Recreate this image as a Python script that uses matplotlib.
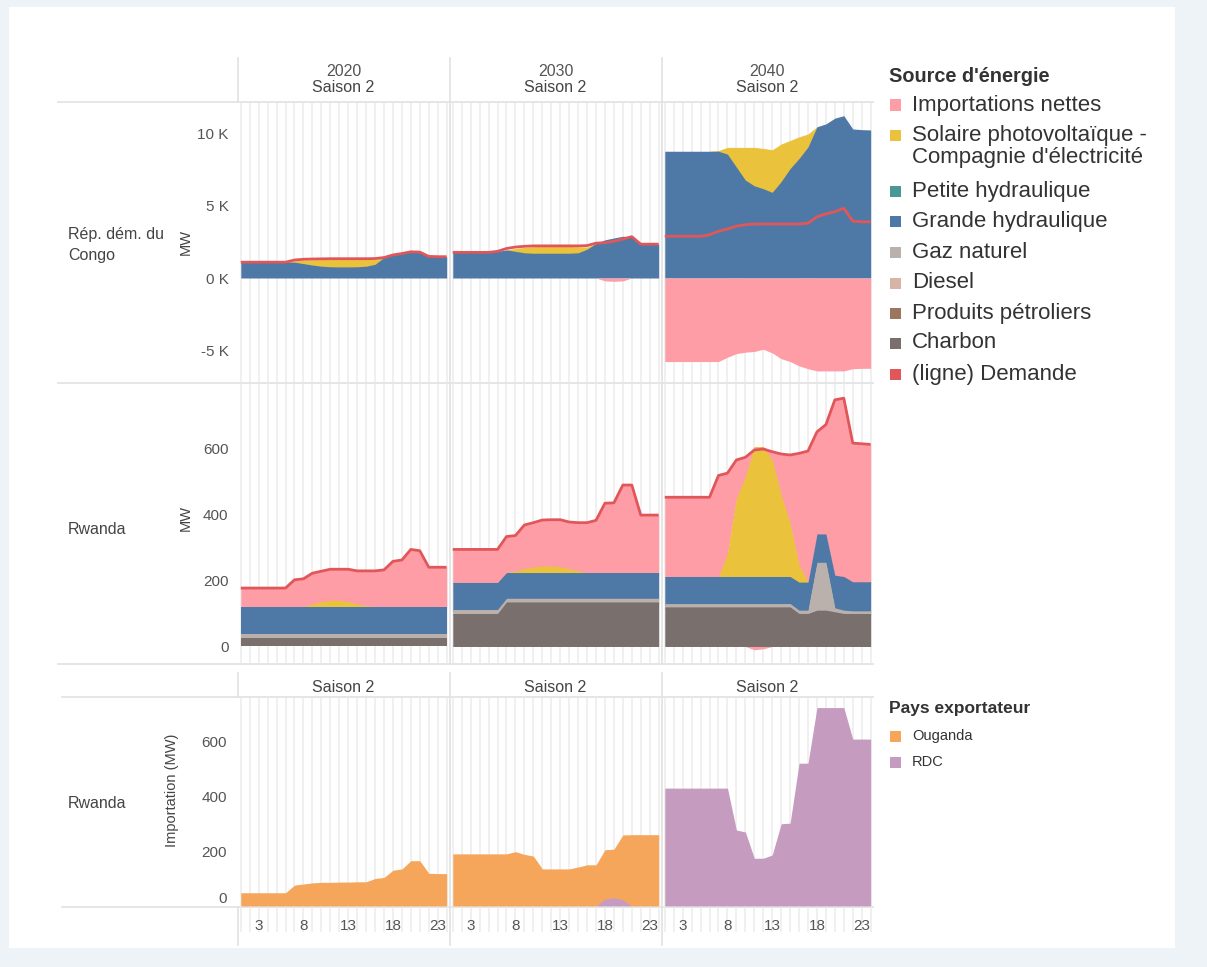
import numpy as np
import matplotlib
matplotlib.use("Agg")
import matplotlib.pyplot as plt
from matplotlib.lines import Line2D
from matplotlib.patches import Rectangle
from matplotlib.ticker import FuncFormatter

plt.rcParams['font.family'] = ['Liberation Sans', 'DejaVu Sans']

# ---------------- data ----------------
HOURS = list(range(1, 25))
YEARS = ['2020', '2030', '2040']
SEASON = 'Saison 2'
X_TICKS = [3, 8, 13, 18, 23]
ROW_LABELS = ['Rép. dém. du\nCongo', 'Rwanda', 'Rwanda']
DRC_TICKS = [-5000, 0, 5000, 10000]
RW_TICKS = [0, 200, 400, 600]

# DRC (MW)
drc_2020_hydro = [1100, 1100, 1100, 1100, 1100, 1100, 1100, 1000, 900, 820, 780, 770, 770, 780, 820, 950, 1420, 1600, 1700, 1820, 1800, 1500, 1480, 1480]
drc_2020_solar = [0, 0, 0, 0, 0, 0, 100, 250, 370, 460, 510, 520, 520, 510, 470, 350, 0, 0, 0, 0, 0, 0, 0, 0]
drc_2020_imports = [0, 0, 0, 0, 0, 0, 0, 0, 0, 0, 0, 0, 0, 0, 0, 0, 0, 0, 0, 0, 0, 0, 0, 0]
drc_2020_demand = [1100, 1100, 1100, 1100, 1100, 1100, 1250, 1300, 1320, 1330, 1340, 1340, 1340, 1340, 1340, 1350, 1420, 1600, 1700, 1820, 1800, 1500, 1480, 1480]

drc_2030_hydro = [1780, 1780, 1780, 1780, 1780, 1850, 1950, 1850, 1750, 1720, 1720, 1720, 1720, 1720, 1750, 2000, 2400, 2650, 2780, 2900, 2870, 2350, 2350, 2350]
drc_2030_solar = [0, 0, 0, 0, 0, 0, 0, 200, 380, 460, 490, 500, 490, 470, 420, 150, 0, 0, 0, 0, 0, 0, 0, 0]
drc_2030_imports = [0, 0, 0, 0, 0, 0, 0, 0, 0, 0, 0, 0, 0, 0, 0, 0, 0, -200, -230, -200, 0, 0, 0, 0]
drc_2030_demand = [1780, 1780, 1780, 1780, 1780, 1850, 2050, 2150, 2200, 2230, 2230, 2230, 2230, 2230, 2230, 2250, 2420, 2450, 2550, 2700, 2870, 2350, 2350, 2350]

drc_2040_hydro = [8800, 8800, 8800, 8800, 8800, 8800, 8800, 8600, 7700, 6800, 6400, 6200, 5950, 6700, 7600, 8300, 9100, 10500, 10700, 11100, 11270, 10350, 10300, 10280]
drc_2040_solar = [0, 0, 0, 0, 0, 0, 50, 470, 1370, 2270, 2670, 2800, 2950, 2600, 1950, 1500, 900, 0, 0, 0, 0, 0, 0, 0]
drc_2040_imports = [-5800, -5800, -5800, -5800, -5800, -5800, -5800, -5500, -5250, -5150, -5100, -4950, -5200, -5600, -5800, -6100, -6300, -6450, -6450, -6450, -6450, -6300, -6270, -6270]
drc_2040_demand = [2900, 2900, 2900, 2900, 2900, 3000, 3250, 3400, 3600, 3700, 3750, 3750, 3750, 3750, 3750, 3750, 3800, 4250, 4450, 4600, 4850, 3950, 3900, 3900]

# Rwanda (MW)
rw_2020_charbon = [26, 26, 26, 26, 26, 26, 26, 26, 26, 26, 26, 26, 26, 26, 26, 26, 26, 26, 26, 26, 26, 26, 26, 26]
rw_2020_gas = [12, 12, 12, 12, 12, 12, 12, 12, 12, 12, 12, 12, 12, 12, 12, 12, 12, 12, 12, 12, 12, 12, 12, 12]
rw_2020_hydro = [83, 83, 83, 83, 83, 83, 83, 83, 83, 83, 83, 83, 83, 83, 83, 83, 83, 83, 83, 83, 83, 83, 83, 83]
rw_2020_solar = [0, 0, 0, 0, 0, 0, 0, 0, 8, 15, 19, 19, 15, 8, 2, 0, 0, 0, 0, 0, 0, 0, 0, 0]
rw_2020_imports = [56, 56, 56, 56, 56, 56, 81, 84, 93, 92, 94, 94, 98, 100, 106, 108, 111, 137, 141, 173, 169, 119, 119, 119]
rw_2020_demand = [177, 177, 177, 177, 177, 177, 202, 205, 222, 228, 234, 234, 234, 229, 229, 229, 232, 258, 262, 294, 290, 240, 240, 240]

rw_2030_charbon = [100, 100, 100, 100, 100, 100, 135, 135, 135, 135, 135, 135, 135, 135, 135, 135, 135, 135, 135, 135, 135, 135, 135, 135]
rw_2030_gas = [12, 12, 12, 12, 12, 12, 11, 11, 11, 11, 11, 11, 11, 11, 11, 11, 11, 11, 11, 11, 11, 11, 11, 11]
rw_2030_hydro = [82, 82, 82, 82, 82, 82, 78, 78, 78, 78, 78, 78, 78, 78, 78, 78, 78, 78, 78, 78, 78, 78, 78, 78]
rw_2030_solar = [0, 0, 0, 0, 0, 0, 0, 5, 12, 17, 20, 20, 17, 12, 5, 0, 0, 0, 0, 0, 0, 0, 0, 0]
rw_2030_imports = [100, 100, 100, 100, 100, 100, 109, 107, 132, 134, 139, 140, 143, 141, 146, 151, 158, 210, 211, 265, 265, 174, 174, 174]
rw_2030_demand = [294, 294, 294, 294, 294, 294, 333, 336, 368, 375, 383, 384, 384, 377, 375, 375, 382, 434, 435, 489, 489, 398, 398, 398]

rw_2040_charbon = [120, 120, 120, 120, 120, 120, 120, 120, 120, 120, 120, 120, 120, 120, 120, 100, 100, 110, 110, 105, 100, 100, 100, 100]
rw_2040_gas = [10, 10, 10, 10, 10, 10, 10, 10, 10, 10, 10, 10, 10, 10, 10, 10, 10, 145, 145, 12, 10, 8, 8, 8]
rw_2040_hydro = [82, 82, 82, 82, 82, 82, 82, 82, 82, 82, 82, 82, 82, 82, 82, 85, 85, 86, 86, 99, 102, 88, 88, 88]
rw_2040_solar = [0, 0, 0, 0, 0, 0, 0, 70, 237, 302, 393, 393, 353, 247, 161, 52, 0, 0, 0, 0, 0, 0, 0, 0]
rw_2040_imports = [240, 240, 240, 240, 240, 240, 306, 243, 116, 59, -10, -7, 25, 124, 207, 338, 397, 309, 331, 531, 540, 420, 418, 416]
rw_2040_demand = [452, 452, 452, 452, 452, 452, 518, 525, 565, 573, 595, 598, 590, 583, 580, 585, 592, 650, 672, 747, 752, 616, 614, 612]

# Rwanda imports by exporting country (MW)
imp_2020_ouganda = [48, 48, 48, 48, 48, 48, 76, 80, 84, 86, 86, 87, 87, 88, 88, 100, 104, 130, 135, 165, 165, 119, 118, 118]
imp_2020_rdc = [0, 0, 0, 0, 0, 0, 0, 0, 0, 0, 0, 0, 0, 0, 0, 0, 0, 0, 0, 0, 0, 0, 0, 0]
imp_2030_ouganda = [190, 190, 190, 190, 190, 190, 190, 198, 188, 182, 135, 135, 135, 135, 142, 150, 150, 180, 177, 237, 260, 260, 260, 260]
imp_2030_rdc = [0, 0, 0, 0, 0, 0, 0, 0, 0, 0, 0, 0, 0, 0, 0, 0, 0, 25, 30, 22, 0, 0, 0, 0]
imp_2040_ouganda = [0, 0, 0, 0, 0, 0, 0, 0, 0, 0, 0, 0, 0, 0, 0, 0, 0, 0, 0, 0, 0, 0, 0, 0]
imp_2040_rdc = [430, 430, 430, 430, 430, 430, 430, 430, 277, 270, 174, 174, 186, 300, 302, 521, 521, 724, 724, 724, 724, 609, 609, 609]

SOURCE_LABELS = ['Importations nettes', "Solaire photovoltaïque -\nCompagnie d'électricité",
                 'Petite hydraulique', 'Grande hydraulique', 'Gaz naturel', 'Diesel',
                 'Produits pétroliers', 'Charbon', '(ligne) Demande']
EXPORTER_LABELS = ['Ouganda', 'RDC']

# ---------------- styles ----------------
C_IMP = '#ff9da7'
C_SOLAR = '#eac23c'
C_PETITE = '#499894'
C_HYDRO = '#4e79a7'
C_GAS = '#bab0ac'
C_DIESEL = '#d7b5a6'
C_PETRO = '#9d7660'
C_COAL = '#79706e'
C_DEM = '#e15759'
C_UG = '#f5a65b'
C_RDC = '#c59bbf'
SOURCE_COLORS = [C_IMP, C_SOLAR, C_PETITE, C_HYDRO, C_GAS, C_DIESEL, C_PETRO, C_COAL, C_DEM]
EXPORTER_COLORS = [C_UG, C_RDC]

W, H = 1207, 967
TXT = '#444444'
TICK = '#555555'
SEP = '#e2e2e2'
GRID = '#ececec'


def fx(x):
    return x / W


def fy(y):
    return 1 - y / H


fig = plt.figure(figsize=(W / 100, H / 100), dpi=100, facecolor='#eef3f8')
fig.add_artist(Rectangle((fx(9), fy(948)), fx(1175) - fx(9), fy(7) - fy(948),
                         transform=fig.transFigure, facecolor='white', edgecolor='none', zorder=-3))

COLS_PX = [(239, 448), (451, 660), (663, 872)]
ROWS_PX = [(103, 382), (384, 663), (698, 907)]
YLIMS = [(-7220, 12150), (-50, 795), (-4, 759)]
XLIM = (0.8, 24.15)


def spread(mask):
    m = mask.copy()
    m[1:] |= mask[:-1]
    m[:-1] |= mask[1:]
    return m


def draw_stack(ax, layers, imports, demand, d):
    """Stacked areas drawn top layer first, each overlapping into the layers
    below by d (data units) so that no antialiasing seams appear."""
    h = np.array(HOURS, float)
    vals = [np.array(v, float) for v, _ in layers]
    cols = [c for _, c in layers]
    if imports is not None:
        imp = np.array(imports, float)
        vals.append(np.clip(imp, 0, None))
        cols.append(C_IMP)
    tops = np.cumsum(np.vstack(vals), axis=0)
    for i in reversed(range(len(vals))):
        mask = spread(vals[i] > 0)
        if not mask.any():
            continue
        if i == 0:
            base = np.zeros_like(h)
        else:
            base = np.maximum(tops[i - 1] - d, 0)
        ax.fill_between(h, base, tops[i], where=mask, color=cols[i], lw=0, zorder=2)
    if imports is not None:
        neg = np.clip(np.array(imports, float), None, 0)
        mask = spread(neg < 0)
        if mask.any():
            ax.fill_between(h, 0, neg, where=mask, color=C_IMP, lw=0, zorder=2)
    if demand is not None:
        ax.plot(h, demand, color=C_DEM, lw=2.0, zorder=4, solid_joinstyle='round', solid_capstyle='butt')


panel_data = {
    (0, 0): ([(drc_2020_hydro, C_HYDRO), (drc_2020_solar, C_SOLAR)], drc_2020_imports, drc_2020_demand),
    (0, 1): ([(drc_2030_hydro, C_HYDRO), (drc_2030_solar, C_SOLAR)], drc_2030_imports, drc_2030_demand),
    (0, 2): ([(drc_2040_hydro, C_HYDRO), (drc_2040_solar, C_SOLAR)], drc_2040_imports, drc_2040_demand),
    (1, 0): ([(rw_2020_charbon, C_COAL), (rw_2020_gas, C_GAS), (rw_2020_hydro, C_HYDRO), (rw_2020_solar, C_SOLAR)], rw_2020_imports, rw_2020_demand),
    (1, 1): ([(rw_2030_charbon, C_COAL), (rw_2030_gas, C_GAS), (rw_2030_hydro, C_HYDRO), (rw_2030_solar, C_SOLAR)], rw_2030_imports, rw_2030_demand),
    (1, 2): ([(rw_2040_charbon, C_COAL), (rw_2040_gas, C_GAS), (rw_2040_hydro, C_HYDRO), (rw_2040_solar, C_SOLAR)], rw_2040_imports, rw_2040_demand),
    (2, 0): ([(imp_2020_rdc, C_RDC), (imp_2020_ouganda, C_UG)], None, None),
    (2, 1): ([(imp_2030_rdc, C_RDC), (imp_2030_ouganda, C_UG)], None, None),
    (2, 2): ([(imp_2040_rdc, C_RDC), (imp_2040_ouganda, C_UG)], None, None),
}

for r, (ry0, ry1) in enumerate(ROWS_PX):
    for c, (cx0, cx1) in enumerate(COLS_PX):
        ax = fig.add_axes([fx(cx0), fy(ry1), fx(cx1) - fx(cx0), fy(ry0) - fy(ry1)])
        ax.set_facecolor('none')
        ax.set_xlim(*XLIM)
        ax.set_ylim(*YLIMS[r])
        for s in ax.spines.values():
            s.set_visible(False)
        ax.tick_params(length=0, colors=TICK, labelsize=11)
        y0, y1 = YLIMS[r]
        per_px = (y1 - y0) / (ry1 - ry0)
        # grid
        if r == 2:
            y_ext = y0 - (932 - 907) * per_px
            ax.vlines(HOURS, y_ext, y1, colors=GRID, lw=1.1, zorder=0, clip_on=False)
        else:
            ax.vlines(HOURS, y0, y1, colors=GRID, lw=1.1, zorder=0)
        layers, imports, demand = panel_data[(r, c)]
        draw_stack(ax, layers, imports, demand, 2 * per_px)
        # y ticks
        if r == 0:
            ax.set_yticks(DRC_TICKS)
            ax.yaxis.set_major_formatter(FuncFormatter(lambda v, p: f"{v / 1000:.0f} K"))
        else:
            ax.set_yticks(RW_TICKS)
        if c != 0:
            ax.set_yticklabels([])
        else:
            ax.tick_params(axis='y', pad=7.5 if r < 2 else 8.5)
            if r == 2:
                ax.get_yticklabels()[0].set_verticalalignment('bottom')
        # x ticks
        ax.set_xticks(X_TICKS)
        if r == 2:
            ax.tick_params(axis='x', pad=8.5)
        else:
            ax.set_xticklabels([])

# headers
for c, (cx0, cx1) in enumerate(COLS_PX):
    xc = fx((cx0 + cx1) / 2)
    fig.text(xc, fy(71), YEARS[c], ha='center', va='center', fontsize=11.5, color=TICK)
    fig.text(xc, fy(88), SEASON, ha='center', va='center', fontsize=11.5, color=TXT)
    fig.text(xc, fy(688), SEASON, ha='center', va='center', fontsize=11.5, color=TXT)

# row labels and axis titles
fig.text(fx(68), fy(245), ROW_LABELS[0], ha='left', va='center', fontsize=11.5, color=TXT, linespacing=1.45)
fig.text(fx(68), fy(530), ROW_LABELS[1], ha='left', va='center', fontsize=11.5, color=TXT)
fig.text(fx(68), fy(804), ROW_LABELS[2], ha='left', va='center', fontsize=11.5, color=TXT)
fig.text(fx(186), fy(242), 'MW', ha='center', va='center', rotation=90, fontsize=10.5, color=TXT)
fig.text(fx(186), fy(518), 'MW', ha='center', va='center', rotation=90, fontsize=10.5, color=TXT)
fig.text(fx(172), fy(790), 'Importation (MW)', ha='center', va='center', rotation=90, fontsize=10.5, color=TXT)


# separator lines
def hline(y, x0, x1):
    fig.add_artist(Line2D([fx(x0), fx(x1)], [fy(y), fy(y)], transform=fig.transFigure, color=SEP, lw=1.2, zorder=-1))


def vline(x, y0, y1):
    fig.add_artist(Line2D([fx(x), fx(x)], [fy(y0), fy(y1)], transform=fig.transFigure, color=SEP, lw=1.2, zorder=-1))


hline(102, 58, 873)
hline(383, 58, 873)
hline(664, 58, 873)
hline(697, 62, 873)
hline(907, 62, 873)
for xv in (238, 449.5, 661.5):
    vline(xv, 58, 102)
    vline(xv, 673, 697)
    vline(xv, 907, 945)
for xv in (449.5, 661.5):
    vline(xv, 102, 664)
    vline(xv, 697, 907)

# legends
fig.text(fx(889), fy(77), "Source d'énergie", ha='left', va='center', fontsize=14.3, fontweight='bold', color='#333333')
LEG1_Y = [105, 135, 191, 221, 252, 283, 313, 343, 374]
for lab, col, y in zip(SOURCE_LABELS, SOURCE_COLORS, LEG1_Y):
    fig.add_artist(Rectangle((fx(890), fy(y + 5.5)), 11 / W, 11 / H, transform=fig.transFigure,
                             facecolor=col, edgecolor='none'))
    for k, line in enumerate(lab.split('\n')):
        fig.text(fx(912), fy(y + 23 * k), line, ha='left', va='center', fontsize=16, color='#333333')

fig.text(fx(889), fy(708), 'Pays exportateur', ha='left', va='center', fontsize=12.5, fontweight='bold', color='#333333')
LEG2_Y = [736, 762]
for lab, col, y in zip(EXPORTER_LABELS, EXPORTER_COLORS, LEG2_Y):
    fig.add_artist(Rectangle((fx(890), fy(y + 5.5)), 11 / W, 11 / H, transform=fig.transFigure,
                             facecolor=col, edgecolor='none'))
    fig.text(fx(912), fy(y), lab, ha='left', va='center', fontsize=10.5, color='#333333')

fig.savefig('out.png', dpi=100, facecolor=fig.get_facecolor())
